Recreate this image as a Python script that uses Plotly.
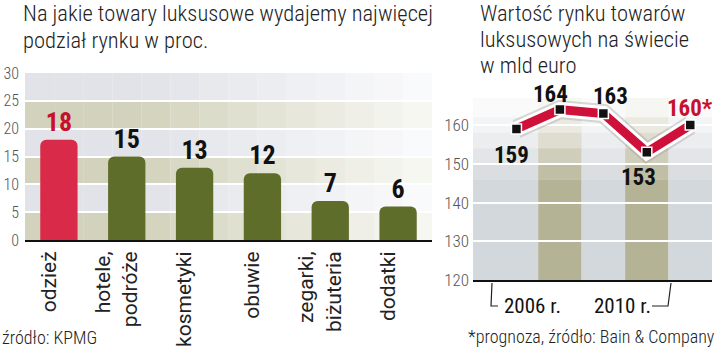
import plotly.graph_objects as go

# ---------------- data ----------------
categories = ["odzież", "hotele,<br>podróże", "kosmetyki", "obuwie", "zegarki,<br>biżuteria", "dodatki"]
shares = [18, 15, 13, 12, 7, 6]
share_colors = ["#da2a4a", "#5f6d2b", "#5f6d2b", "#5f6d2b", "#5f6d2b", "#5f6d2b"]
share_text_colors = ["#c8102e", "#111111", "#111111", "#111111", "#111111", "#111111"]
left_ticks = [0, 5, 10, 15, 20, 25, 30]

years = ["2006", "2007", "2008", "2009", "2010"]
market = [159, 164, 163, 153, 160]
market_labels = ["159", "164", "163", "153", "160*"]
market_label_colors = ["#111111", "#111111", "#111111", "#111111", "#c8102e"]
right_ticks = [120, 130, 140, 150, 160]

# ---------------- helpers ----------------
W, H = 720, 347
def px(x):
    return x / W
def py(y):
    return 1 - y / H

FONT = "Roboto Condensed, Liberation Sans Narrow, DejaVu Sans Condensed, Roboto, sans-serif"
REG = "Roboto, Liberation Sans, sans-serif"

fig = go.Figure()

# ---------------- left bar chart ----------------
xi = list(range(len(categories)))
fig.add_trace(go.Bar(
    x=xi, y=shares, xaxis="x", yaxis="y",
    marker=dict(color=share_colors, cornerradius=6, line=dict(width=0)),
    width=0.55,
    text=[str(v) for v in shares], textposition="outside",
    textfont=dict(family=FONT, size=26, color=share_text_colors, weight="bold"),
    cliponaxis=False, showlegend=False, hoverinfo="skip",
))

# ---------------- right line chart ----------------
ri = list(range(len(years)))
fig.add_trace(go.Scatter(
    x=ri, y=market, xaxis="x2", yaxis="y2", mode="lines",
    line=dict(color="rgba(150,150,150,0.35)", width=19),
    showlegend=False, hoverinfo="skip",
))
fig.add_trace(go.Scatter(
    x=ri, y=market, xaxis="x2", yaxis="y2", mode="lines",
    line=dict(color="white", width=15),
    showlegend=False, hoverinfo="skip",
))
fig.add_trace(go.Scatter(
    x=ri, y=market, xaxis="x2", yaxis="y2", mode="lines+markers",
    line=dict(color="#cf1038", width=9),
    marker=dict(symbol="square", size=10, color="#111111", line=dict(color="white", width=1.5)),
    showlegend=False, hoverinfo="skip", cliponaxis=False,
))

shapes = []

# left background bands with horizontal fade
band_colors = ["#d3d3bd", "#e1e3e8"]
nseg = 14
x_left, x_right = 25, 432
for b in range(6):
    col = band_colors[b % 2]
    for s in range(nseg):
        x0 = x_left + (x_right - x_left) * s / nseg
        x1 = x_left + (x_right - x_left) * (s + 1) / nseg
        frac = (s + 0.5) / nseg
        op = 1.0 if frac < 0.3 else max(0.15, 1.0 - (frac - 0.3) / 0.7 * 0.85)
        shapes.append(dict(type="rect", xref="paper", yref="y", layer="below",
                           x0=px(x0), x1=px(x1), y0=b * 5, y1=b * 5 + 5,
                           fillcolor=col, opacity=op, line=dict(width=0)))

# right background columns with vertical fade
col_colors = ["#d3d8dc", "#b5b395"]
vsteps = [(120, 146, 1.0), (146, 150, 0.85), (150, 154, 0.65), (154, 158, 0.45),
          (158, 162, 0.28), (162, 167, 0.12)]
for c in range(len(years)):
    xa = -1.0 if c == 0 else c - 0.5
    xb = c + 0.5
    for (y0, y1, op) in vsteps:
        shapes.append(dict(type="rect", xref="x2", yref="y2", layer="below",
                           x0=xa, x1=xb, y0=y0, y1=y1,
                           fillcolor=col_colors[c % 2], opacity=op, line=dict(width=0)))

# brackets under right chart
shapes.append(dict(type="path", xref="paper", yref="paper",
                   path=f"M {px(492)} {py(283)} L {px(491)} {py(306)} L {px(498)} {py(306)}",
                   line=dict(color="#222", width=1.2)))
shapes.append(dict(type="path", xref="paper", yref="paper",
                   path=f"M {px(652)} {py(306)} L {px(668)} {py(306)} L {px(671)} {py(283)}",
                   line=dict(color="#222", width=1.2)))

fig.update_layout(shapes=shapes)

ann = []
# titles
ann.append(dict(text="Na jakie towary luksusowe wydajemy najwięcej", x=px(21), y=py(13)))
ann.append(dict(text="podział rynku w proc.", x=px(21), y=py(40)))
ann.append(dict(text="Wartość rynku towarów", x=px(478), y=py(13)))
ann.append(dict(text="luksusowych na świecie", x=px(478), y=py(39)))
ann.append(dict(text="w mld euro", x=px(478), y=py(65)))
for a in ann:
    a.update(xref="paper", yref="paper", showarrow=False, xanchor="left", yanchor="middle",
             font=dict(family=FONT, size=22.5, color="#222222", weight=300))

foot = [
    dict(text="źródło: KPMG", x=px(0), y=py(337), xanchor="left"),
    dict(text="*prognoza, źródło: Bain & Company", x=px(717), y=py(336), xanchor="right"),
]
for a in foot:
    a.update(xref="paper", yref="paper", yanchor="middle", showarrow=False,
             font=dict(family=FONT, size=18, color="#222222", weight=300))
ann += foot

# year bracket labels
for t, xc in [("2006 r.", 532), ("2010 r.", 622)]:
    ann.append(dict(text=t, x=px(xc), y=py(306), xref="paper", yref="paper",
                    xanchor="center", yanchor="middle", showarrow=False,
                    font=dict(family=FONT, size=21, color="#111111")))

# value labels on line
offsets = [(-5, -27), (-9, 15), (7, 17), (-8, -25), (0, 17)]
for i, (v, lab, colr) in enumerate(zip(market, market_labels, market_label_colors)):
    dx, dy = offsets[i]
    ann.append(dict(text=lab, x=i, y=v, xref="x2", yref="y2", xshift=dx, yshift=dy,
                    xanchor="center", yanchor="middle", showarrow=False,
                    font=dict(family=FONT, size=23, color=colr, weight="bold")))

fig.update_layout(
    annotations=ann,
    width=W, height=H,
    margin=dict(l=0, r=0, t=0, b=0, autoexpand=False),
    paper_bgcolor="white", plot_bgcolor="rgba(0,0,0,0)",
    bargap=0.45,
    xaxis=dict(domain=[px(25), px(432)], range=[-0.5, 5.5], tickvals=xi, ticktext=categories,
               tickangle=-90, showline=True, linecolor="#111", linewidth=2, ticks="",
               showgrid=False, zeroline=False, anchor="y", ticklabelshift=-10,
               automargin=False, ticklabelstandoff=1,
               tickfont=dict(family=REG, size=21, color="#222")),
    yaxis=dict(domain=[py(240), py(73)], range=[0, 30], tickvals=left_ticks,
               showgrid=True, gridcolor="white", gridwidth=2, zeroline=False,
               showline=False, ticks="", anchor="x", ticklabelstandoff=5,
               automargin=False,
               tickfont=dict(family=FONT, size=16, color="#555", weight=300)),
    xaxis2=dict(domain=[px(473), px(712)], range=[-1.0, 4.5], showticklabels=False,
                showline=True, linecolor="#111", linewidth=2, ticks="", showgrid=False,
                zeroline=False, anchor="y2", automargin=False),
    yaxis2=dict(domain=[py(280), py(98)], range=[120, 167], tickvals=right_ticks,
                showgrid=True, gridcolor="white", gridwidth=2, zeroline=False,
                showline=False, ticks="", anchor="x2", ticklabelstandoff=3,
                automargin=False,
                tickfont=dict(family=FONT, size=17, color="#555", weight=300)),
)

fig.write_html("out.html")
